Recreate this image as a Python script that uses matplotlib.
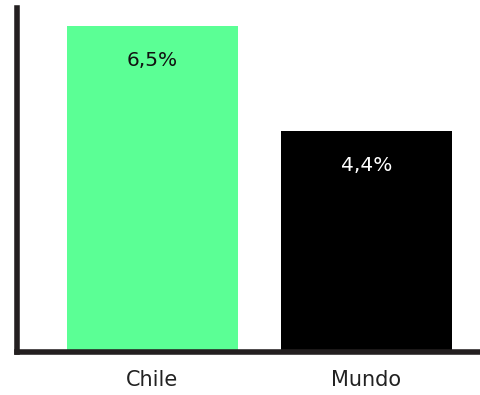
import matplotlib
matplotlib.use("Agg")
import matplotlib.pyplot as plt

categories = ["Chile", "Mundo"]
values = [6.5, 4.4]
value_labels = ["6,5%", "4,4%"]
bar_colors = ["#5BFF95", "#000000"]
text_colors = ["#111111", "#ffffff"]

fig = plt.figure(figsize=(4.8, 3.95), dpi=100)
ax = fig.add_axes([17 / 480, 43 / 395, 463 / 480, 344 / 395])

x = list(range(len(categories)))
bars = ax.bar(x, values, width=0.8, color=bar_colors)

for b, lab, tc in zip(bars, value_labels, text_colors):
    ax.annotate(lab, (b.get_x() + b.get_width() / 2, b.get_height()),
                xytext=(0, -24.5), textcoords="offset points",
                ha="center", va="center", fontsize=14.5, color=tc)

ax.set_xlim(-0.633, 1.53)
ax.set_ylim(0, 6.86)
ax.set_xticks(x)
ax.set_xticklabels(categories, fontsize=15, color="#222222")
ax.tick_params(axis="x", length=0, pad=13)
ax.set_yticks([])

for s in ["top", "right"]:
    ax.spines[s].set_visible(False)
for s in ["left", "bottom"]:
    ax.spines[s].set_linewidth(4)
    ax.spines[s].set_color("#231f20")
    ax.spines[s].set_capstyle("projecting")

fig.savefig("out.png", dpi=100)
